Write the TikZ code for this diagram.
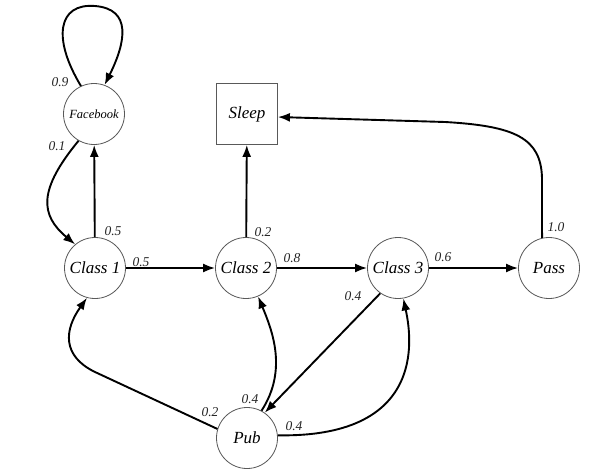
\documentclass[tikz,border=0pt]{standalone}
\usepackage{fontspec}
\setmainfont{Liberation Serif}
\usetikzlibrary{arrows.meta}
\begin{document}
\begin{tikzpicture}[x=1pt,y=-1pt,
  state/.style={circle,draw=black!65,line width=0.8pt,minimum size=61pt,inner sep=0pt,
    font=\fontsize{17}{17}\selectfont\itshape},
  term/.style={rectangle,draw=black!65,line width=0.8pt,minimum size=61pt,inner sep=0pt,
    font=\fontsize{17}{17}\selectfont\itshape},
  edge/.style={-{Latex[length=12pt,width=9pt]},line width=1.9pt},
  lab/.style={font=\fontsize{13.5}{13.5}\selectfont\itshape,inner sep=0pt,text=black!85}]
\useasboundingbox (0,0) rectangle (595,474);
\fill[white] (0,0) rectangle (595,474);
% nodes
\node[state,font=\fontsize{12.5}{12.5}\selectfont\itshape] (fb) at (94,114) {Facebook};
\node[term] (sleep) at (247,114) {Sleep};
\node[state] (c1) at (95,268) {Class 1};
\node[state] (c2) at (246,268) {Class 2};
\node[state] (c3) at (398,268) {Class 3};
\node[state] (pass) at (549,268) {Pass};
\node[state] (pub) at (247,438) {Pub};
% edges
\draw[edge] (fb.115) .. controls (52,38) and (58,3) .. (95,6) .. controls (132,9) and (126,42) .. (fb.70);
\draw[edge] (fb.240) .. controls (38,190) and (40,215) .. (c1.130);
\draw[edge] (c1) -- (fb);
\draw[edge] (c1) -- (c2);
\draw[edge] (c2) -- (sleep);
\draw[edge] (c2) -- (c3);
\draw[edge] (c3) -- (pass);
\draw[edge] (pass.103) -- (542,178) .. controls (541,138) and (515,126) .. (445,122) -- ([yshift=-3pt]sleep.east);
\draw[edge] (c3.235) -- (pub.55);
\draw[edge] (pub.163) -- (95,372) .. controls (62,356) and (64,330) .. (c1.255);
\draw[edge] (pub.62) .. controls (288,370) and (272,330) .. (c2.293);
\draw[edge] (pub.5) .. controls (432,438) and (410,330) .. (c3.280);
% labels
\node[lab] (l09) at (60,82) {0.9};
\node[lab] (l01) at (57,146) {0.1};
\node[lab] (l05a) at (113,231) {0.5};
\node[lab] (l05b) at (141,262) {0.5};
\node[lab] (l02a) at (263,232) {0.2};
\node[lab] (l08) at (292,258) {0.8};
\node[lab] (l06) at (443,257) {0.6};
\node[lab] (l10) at (556,227) {1.0};
\node[lab] (l04a) at (353,296) {0.4};
\node[lab] (l02b) at (210,412) {0.2};
\node[lab] (l04b) at (250,399) {0.4};
\node[lab] (l04c) at (294,426) {0.4};
\end{tikzpicture}
\end{document}
